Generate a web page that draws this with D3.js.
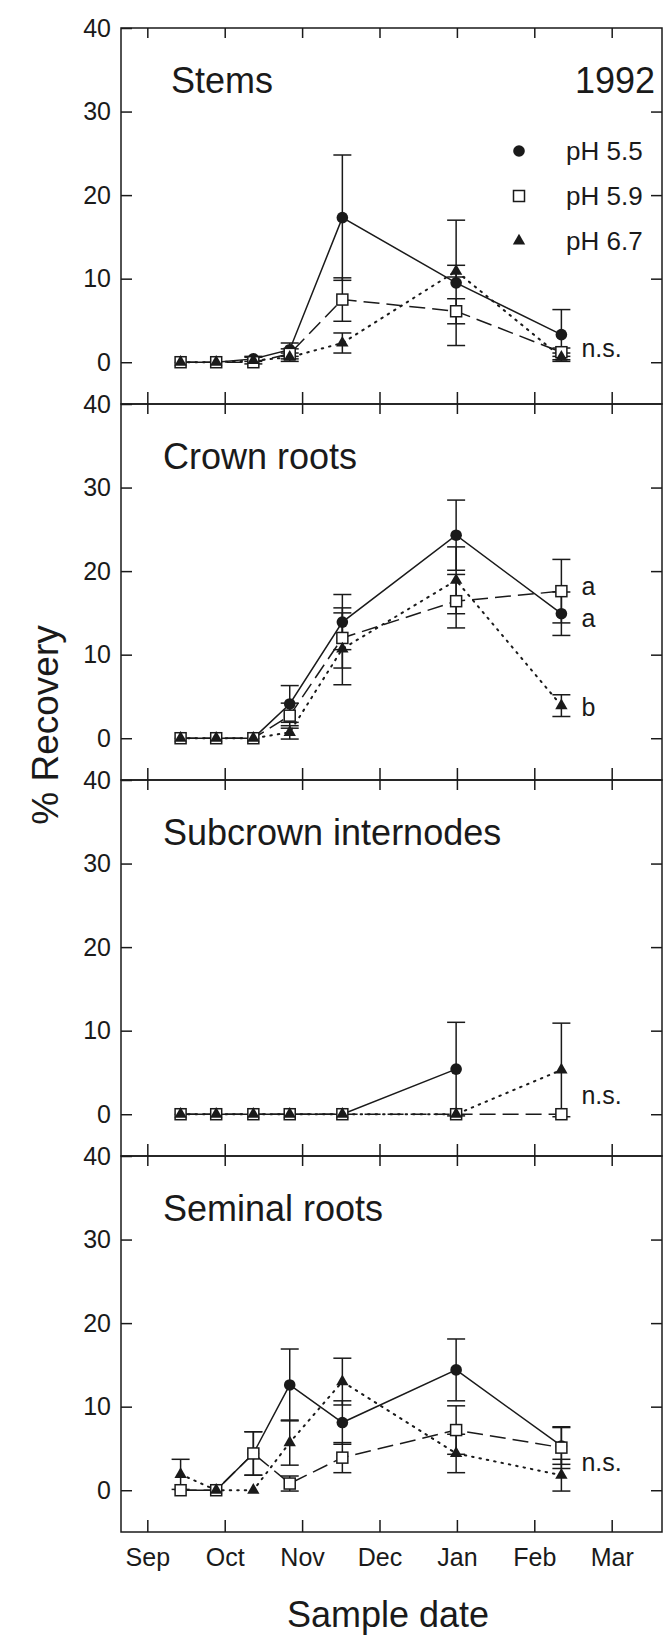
<!DOCTYPE html>
<html>
<head>
<meta charset="utf-8">
<script src="https://cdn.jsdelivr.net/npm/d3@7"></script>
<style>
  body { margin: 0; background: #fff; }
  svg { display: block; font-family: Arial, "Liberation Sans", Helvetica, sans-serif; }
</style>
</head>
<body>
<div class="chart"></div>
<script>
// x values are months after 1 Sep (Sep = 0 ... Mar = 6)
var months = ["Sep", "Oct", "Nov", "Dec", "Jan", "Feb", "Mar"];
var sampleDates = [0.43, 0.89, 1.37, 1.84, 2.52, 3.99, 5.35];
var treatments = ["pH 5.5", "pH 5.9", "pH 6.7"];
var tissues = ["Stems", "Crown roots", "Subcrown internodes", "Seminal roots"];
var yTicks = [0, 10, 20, 30, 40];

// % recovery, one row per treatment (pH 5.5, pH 5.9, pH 6.7)
var stemsMean = [
  [0, 0, 0.4, 1.5, 17.3, 9.5, 3.3],
  [0, 0, 0, 1.0, 7.5, 6.1, 1.2],
  [0, 0, 0.2, 0.6, 2.3, 10.9, 0.6],
];
var stemsErr = [
  [0, 0, 0.3, 0.8, 7.5, 7.5, 3.0],
  [0, 0, 0, 0.6, 2.6, 1.5, 0.5],
  [0, 0, 0.4, 0.5, 1.2, 0.7, 0.5],
];
var crownMean = [
  [0, 0, 0, 4.1, 13.9, 24.3, 14.9],
  [0, 0, 0, 2.7, 12.0, 16.4, 17.6],
  [0, 0, 0, 0.7, 10.7, 18.9, 3.9],
];
var crownErr = [
  [0, 0, 0, 2.2, 3.3, 4.2, 2.6],
  [0, 0, 0, 1.5, 3.6, 3.2, 3.8],
  [0, 0, 0, 0.8, 4.3, 4.0, 1.3],
];
var subcrownMean = [
  [0, 0, 0, 0, 0, 5.4, null],
  [0, 0, 0, 0, 0, 0, 0],
  [0, 0, 0, 0, 0, 0, 5.3],
];
var subcrownErr = [
  [0, 0, 0, 0, 0, 5.6, 0],
  [0, 0, 0, 0, 0, 0, 0],
  [0, 0, 0, 0, 0, 0, 5.6],
];
var seminalMean = [
  [0, 0, 4.4, 12.6, 8.1, 14.4, 5.3],
  [0, 0, 4.4, 0.8, 3.9, 7.2, 5.1],
  [1.9, 0, 0, 5.7, 13.0, 4.4, 1.8],
];
var seminalErr = [
  [0, 0, 2.6, 4.3, 2.6, 3.7, 2.2],
  [0, 0, 2.6, 0.9, 1.8, 2.9, 2.5],
  [1.8, 0, 0, 2.7, 2.8, 2.3, 1.9],
];

// significance letters at the last sample date
var noteText = [["n.s."], ["a", "a", "b"], ["n.s."], ["n.s."]];
var noteLevel = [[1.7], [18.2, 14.3, 3.7], [2.3], [3.4]];

var allMeans = [stemsMean, crownMean, subcrownMean, seminalMean];
var allErrs = [stemsErr, crownErr, subcrownErr, seminalErr];

//canvas
var svgWidth = 664;
var svgHeight = 1637;

var margin = { top: 28, left: 121 };
var width = 541;
var panelHeight = 376;
var ink = "#1a1a1a";

var svg = d3
  .select(".chart")
  .append("svg")
  .attr("width", svgWidth)
  .attr("height", svgHeight);

var chartGroup = svg
  .append("g")
  .attr("transform", `translate(${margin.left}, ${margin.top})`);

// month axis is even, one step per month
var xScale = d3.scaleLinear().domain([-0.34, 6.65]).range([0, width]);
var yScale = d3.scaleLinear().domain([-5, 40]).range([panelHeight, 0]);

var dashes = [null, "16,7", "1.5,6"];

function styleAxis(g) {
  g.select(".domain").remove();
  g.selectAll(".tick line").attr("stroke", ink).attr("stroke-width", 1.5);
  g.selectAll(".tick text")
    .attr("fill", ink)
    .style("font-size", "25px")
    .style("font-family", "Arial, 'Liberation Sans', sans-serif");
}

tissues.forEach(function (name, p) {
  var g = chartGroup
    .append("g")
    .attr("transform", `translate(0, ${p * panelHeight})`);

  // left axis with labels, ticks pointing in
  g.append("g")
    .call(
      d3.axisLeft(yScale).tickValues(yTicks).tickSizeInner(-11).tickSizeOuter(0).tickPadding(10)
    )
    .call(styleAxis);

  // right axis, ticks only
  g.append("g")
    .attr("transform", `translate(${width}, 0)`)
    .call(
      d3.axisRight(yScale).tickValues([0, 10, 20, 30]).tickSizeInner(-11).tickSizeOuter(0).tickFormat("")
    )
    .call(styleAxis);

  // month ticks top and bottom
  g.append("g")
    .call(
      d3.axisTop(xScale).tickValues(d3.range(7)).tickSizeInner(-10).tickSizeOuter(0).tickFormat("")
    )
    .call(styleAxis);

  g.append("g")
    .attr("transform", `translate(0, ${panelHeight})`)
    .call(
      d3
        .axisBottom(xScale)
        .tickValues(d3.range(7))
        .tickSizeInner(-12)
        .tickSizeOuter(0)
        .tickPadding(16)
        .tickFormat(p === 3 ? (d) => months[d] : "")
    )
    .call(styleAxis);

  // frame
  g.append("rect")
    .attr("width", width)
    .attr("height", panelHeight)
    .attr("fill", "none")
    .attr("stroke", ink)
    .attr("stroke-width", 1.5);

  // title
  g.append("text")
    .attr("x", p === 0 ? 50 : 42)
    .attr("y", 65)
    .attr("fill", ink)
    .style("font-size", "36px")
    .text(name);

  var means = allMeans[p];
  var errs = allErrs[p];

  // lines
  means.forEach(function (row, s) {
    var pts = row.map((v, i) => ({ x: sampleDates[i], v: v }));
    var line = d3
      .line()
      .defined((d) => d.v != null)
      .x((d) => xScale(d.x))
      .y((d) => yScale(d.v));
    g.append("path")
      .datum(pts)
      .attr("d", line)
      .attr("fill", "none")
      .attr("stroke", ink)
      .attr("stroke-width", s === 2 ? 2 : 1.5)
      .attr("stroke-linecap", s === 2 ? "round" : "butt")
      .attr("stroke-dasharray", dashes[s]);
  });

  // error bars
  means.forEach(function (row, s) {
    row.forEach(function (v, i) {
      var e = errs[s][i];
      if (v == null || !e) return;
      var cx = xScale(sampleDates[i]);
      var lo = yScale(v - e);
      var hi = yScale(v + e);
      var eb = g.append("g").attr("stroke", ink).attr("stroke-width", 1.5);
      eb.append("line").attr("x1", cx).attr("x2", cx).attr("y1", lo).attr("y2", hi);
      eb.append("line").attr("x1", cx - 9).attr("x2", cx + 9).attr("y1", lo).attr("y2", lo);
      eb.append("line").attr("x1", cx - 9).attr("x2", cx + 9).attr("y1", hi).attr("y2", hi);
    });
  });

  // markers
  means.forEach(function (row, s) {
    var pts = row
      .map((v, i) => ({ x: sampleDates[i], v: v }))
      .filter((d) => d.v != null);
    drawMarkers(g, pts, s, xScale, yScale);
  });

  // significance notes
  noteText[p].forEach(function (t, k) {
    g.append("text")
      .attr("x", xScale(sampleDates[6]) + 20)
      .attr("y", yScale(noteLevel[p][k]))
      .attr("dy", "0.35em")
      .attr("fill", ink)
      .style("font-size", "25px")
      .text(t);
  });
});

function drawMarkers(g, pts, s, xs, ys) {
  if (s === 0) {
    g.selectAll(null)
      .data(pts)
      .enter()
      .append("circle")
      .attr("cx", (d) => xs(d.x))
      .attr("cy", (d) => ys(d.v))
      .attr("r", 5.8)
      .attr("fill", ink);
  } else if (s === 1) {
    g.selectAll(null)
      .data(pts)
      .enter()
      .append("rect")
      .attr("x", (d) => xs(d.x) - 5.5)
      .attr("y", (d) => ys(d.v) - 5.5)
      .attr("width", 11)
      .attr("height", 11)
      .attr("fill", "#fff")
      .attr("stroke", ink)
      .attr("stroke-width", 1.5);
  } else {
    g.selectAll(null)
      .data(pts)
      .enter()
      .append("path")
      .attr("d", d3.symbol().type(d3.symbolTriangle).size(66))
      .attr("transform", (d) => `translate(${xs(d.x)}, ${ys(d.v)})`)
      .attr("fill", ink);
  }
}

// legend and year in the top panel
var legend = chartGroup.append("g");
var ident = (d) => d;
treatments.forEach(function (t, s) {
  var ly = 123 + s * 45;
  drawMarkers(legend, [{ x: 398, v: ly }], s, ident, ident);
  legend
    .append("text")
    .attr("x", 445)
    .attr("y", ly)
    .attr("dy", "0.35em")
    .attr("fill", ink)
    .style("font-size", "26px")
    .text(t);
});

chartGroup
  .append("text")
  .attr("x", 534)
  .attr("y", 65)
  .attr("text-anchor", "end")
  .attr("fill", ink)
  .style("font-size", "36px")
  .text("1992");

// axis titles
svg
  .append("text")
  .attr("transform", "translate(45, 725) rotate(-90)")
  .attr("text-anchor", "middle")
  .attr("dy", "0.35em")
  .attr("fill", ink)
  .style("font-size", "37px")
  .text("% Recovery");

svg
  .append("text")
  .attr("x", 388)
  .attr("y", 1627)
  .attr("text-anchor", "middle")
  .attr("fill", ink)
  .style("font-size", "36px")
  .text("Sample date");
</script>
</body>
</html>
